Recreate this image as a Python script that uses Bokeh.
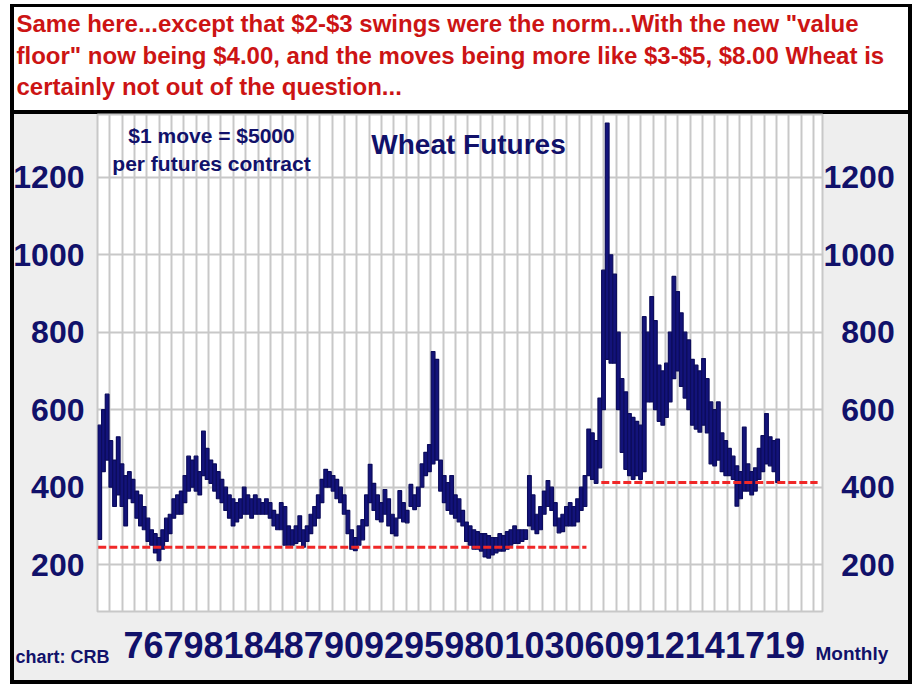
import numpy as np
from bokeh.plotting import figure
from bokeh.layouts import column
from bokeh.models import Range1d, FixedTicker, Label, ColumnDataSource, LinearAxis
from bokeh.embed import file_html
from bokeh.resources import INLINE

# ---------------- data ----------------
# quarterly high / low of wheat futures (cents/bushel), first quarter = Q4 1973
quarter_start = 1973.75
wheat_high = [
    560, 600, 640, 520, 470, 530, 460, 430, 440, 420,
    390, 380, 350, 320, 290, 280, 270, 290, 320, 330,
    370, 380, 390, 430, 480, 470, 480, 440, 545, 500,
    470, 460, 440, 420, 400, 380, 370, 360, 370, 400,
    380, 370, 380, 370, 360, 370, 360, 340, 330, 360,
    350, 300, 290, 300, 326, 290, 300, 330, 350, 380,
    420, 446, 440, 430, 420, 400, 380, 340, 290, 270,
    300, 316, 380, 459, 410, 380, 360, 394, 370, 330,
    320, 391, 360, 340, 407, 380, 400, 460, 490, 510,
    750, 730, 470, 430, 412, 430, 380, 370, 340, 310,
    300, 290, 285, 280, 280, 275, 270, 270, 280, 275,
    285, 290, 300, 290, 290, 290, 430, 380, 330, 350,
    390, 417, 400, 360, 320, 330, 350, 360, 350, 370,
    400, 430, 550, 540, 520, 630, 960, 1340, 1000, 950,
    800, 680, 646, 590, 580, 570, 560, 840, 800, 892,
    830, 715, 700, 720, 800, 944, 905, 850, 800, 780,
    730, 715, 700, 732, 680, 620, 600, 620, 540, 520,
    500, 480, 455, 440, 555, 460, 440, 450, 500, 533,
    590, 530, 520, 524,
]
wheat_low = [
    265, 440, 470, 400, 350, 380, 350, 300, 370, 360,
    320, 300, 290, 260, 250, 230, 210, 240, 260, 280,
    320, 330, 330, 360, 390, 400, 390, 380, 430, 420,
    410, 390, 370, 360, 340, 320, 300, 310, 320, 330,
    330, 320, 330, 330, 330, 330, 320, 300, 290, 290,
    250, 250, 250, 255, 260, 245, 260, 280, 300, 320,
    360, 400, 400, 390, 370, 360, 330, 280, 240, 236,
    250, 264, 300, 360, 340, 316, 310, 330, 300, 280,
    274, 320, 310, 308, 350, 342, 350, 400, 430, 440,
    460, 470, 390, 360, 340, 330, 320, 310, 300, 260,
    250, 240, 240, 235, 220, 217, 225, 230, 235, 235,
    240, 250, 255, 255, 260, 265, 300, 290, 280, 290,
    330, 350, 340, 300, 282, 285, 300, 300, 300, 310,
    340, 350, 430, 420, 410, 450, 600, 730, 720, 720,
    600, 490, 446, 430, 420, 430, 420, 440, 620, 620,
    600, 570, 560, 580, 620, 680, 700, 660, 630, 600,
    560, 550, 542, 560, 540, 460, 455, 470, 440, 430,
    430, 420, 351, 370, 390, 390, 380, 390, 420, 440,
    460, 455, 440, 412,
]
# red "value floor" lines
floor_level = [245, 412]
floor_start = [1973.65, 2007.6]
floor_end = [2006.6, 2022.2]

year_labels = ["76", "79", "81", "84", "87", "90", "92", "95", "98",
               "01", "03", "06", "09", "12", "14", "17", "19"]
price_ticks = [200, 400, 600, 800, 1000, 1200]

note_lines = [
    'Same here...except that $2-$3 swings were the norm...With the new "value',
    'floor" now being $4.00, and the moves being more like $3-$5, $8.00 Wheat is',
    'certainly not out of the question...',
]

# ---------------- styling ----------------
NAVY = "#11116a"
RED = "#cc1414"
FONT = "Liberation Sans"
W = 902
TOP_H = 106
CH_H = 574
STRIP_H = 46
STRIP_UP = 50


def bare(fig):
    fig.outline_line_color = None
    fig.background_fill_alpha = 0
    fig.border_fill_alpha = 0


# ---------------- top note box ----------------
top = figure(width=W, height=TOP_H, x_range=Range1d(0, W), y_range=Range1d(0, TOP_H),
             output_backend="svg", toolbar_location=None,
             x_axis_type=None, y_axis_type=None, frame_align=False,
             min_border=0, min_border_left=0, min_border_right=0,
             min_border_top=0, min_border_bottom=0)
bare(top)
top.styles = {"background-color": "white",
              "box-shadow": "inset 4px 3px 0 0 #000, inset -4px 0 0 0 #000"}
for txt, yb in zip(note_lines, [87, 55, 24]):
    top.add_layout(Label(x=6, y=yb, text=txt, text_color=RED, text_font=FONT,
                         text_font_style="bold", text_font_size="24px",
                         text_baseline="alphabetic", text_align="left"))

# ---------------- chart panel ----------------
dates = quarter_start + 0.25 * np.arange(len(wheat_high))
src = ColumnDataSource(dict(date=dates, high=wheat_high, low=wheat_low))

p = figure(width=W, height=CH_H, x_range=Range1d(1973.6, 2022.53), y_range=Range1d(79, 1362),
           output_backend="svg", toolbar_location=None, frame_align=False,
           min_border_left=83, min_border_right=90, min_border_top=4, min_border_bottom=73)
p.background_fill_color = "white"
p.border_fill_alpha = 0
p.styles = {"background-color": "#eeeeee", "box-shadow": "inset 0 0 0 4px #000"}
p.outline_line_color = "#c8c8c8"
p.outline_line_width = 2

# grids
grid_ticks = list(np.arange(1973.6, 2022.5, 10.0 / 12.0))
p.xgrid.ticker = FixedTicker(ticks=grid_ticks)
p.ygrid.ticker = FixedTicker(ticks=price_ticks)
for g in (p.xgrid, p.ygrid):
    g.grid_line_color = "#c8c8c8"
    g.grid_line_width = 2

# bottom axis
label_pos = [round(v, 3) for v in np.linspace(1976.7, 2020.0, len(year_labels))]
xa = p.xaxis[0]
xa.ticker = FixedTicker(ticks=label_pos)
xa.major_label_overrides = {pos: lab for pos, lab in zip(label_pos, year_labels)}
# left axis
ya = p.yaxis[0]
ya.ticker = FixedTicker(ticks=price_ticks)
# right axis (labels right-aligned by padding)
yr = LinearAxis(ticker=FixedTicker(ticks=price_ticks))
yr.major_label_overrides = {t: ("\u00a0\u00a0" + str(t) if t < 1000 else str(t))
                            for t in price_ticks}
p.add_layout(yr, "right")

for ax in (xa, ya, yr):
    ax.axis_line_color = None
    ax.major_tick_line_color = None
    ax.minor_tick_line_color = None
    ax.major_label_text_color = NAVY
    ax.major_label_text_font = FONT
    ax.major_label_text_font_style = "bold"
ya.major_label_text_font_size = "32px"
yr.major_label_text_font_size = "32px"
ya.major_label_standoff = 7
yr.major_label_standoff = -5
xa.major_label_text_font_size = "36px"
xa.major_label_standoff = 14

# price bars
p.vbar(x="date", width=0.25, top="high", bottom="low", source=src,
       fill_color="#13137a", line_color="#0c0c5c", line_width=1.2)
# value floor lines
p.segment(x0=floor_start, x1=floor_end, y0=floor_level, y1=floor_level,
          line_color="#f02828", line_width=3, line_dash="8 3")


def lab(fig, x, y, text, size, align="center", units="screen"):
    fig.add_layout(Label(x=x, y=y, x_units=units, y_units=units, text=text,
                         text_color=NAVY, text_font=FONT, text_font_style="bold",
                         text_font_size=size, text_align=align, text_baseline="alphabetic"))


lab(p, 114, 476, "$1 move = $5000", "21px")
lab(p, 114, 448, "per futures contract", "21px")
lab(p, 371, 467, "Wheat Futures", "28px")

# ---------------- bottom caption strip (overlaps panel bottom) ----------------
strip = figure(width=W, height=STRIP_H, x_range=Range1d(0, W), y_range=Range1d(0, STRIP_H),
               output_backend="svg", toolbar_location=None,
               x_axis_type=None, y_axis_type=None, frame_align=False,
               min_border=0, min_border_left=0, min_border_right=0,
               min_border_top=0, min_border_bottom=0)
bare(strip)
strip.styles = {"margin-top": "-%dpx" % STRIP_UP}
lab(strip, 5, 24, "chart: CRB", "18px", "left", "data")
lab(strip, 805, 27, "Monthly", "19px", "left", "data")

layout = column(top, p, strip, spacing=0)
layout.styles = {"margin-left": "10px", "margin-top": "4px"}
open("out.html", "w").write(file_html(layout, INLINE))
